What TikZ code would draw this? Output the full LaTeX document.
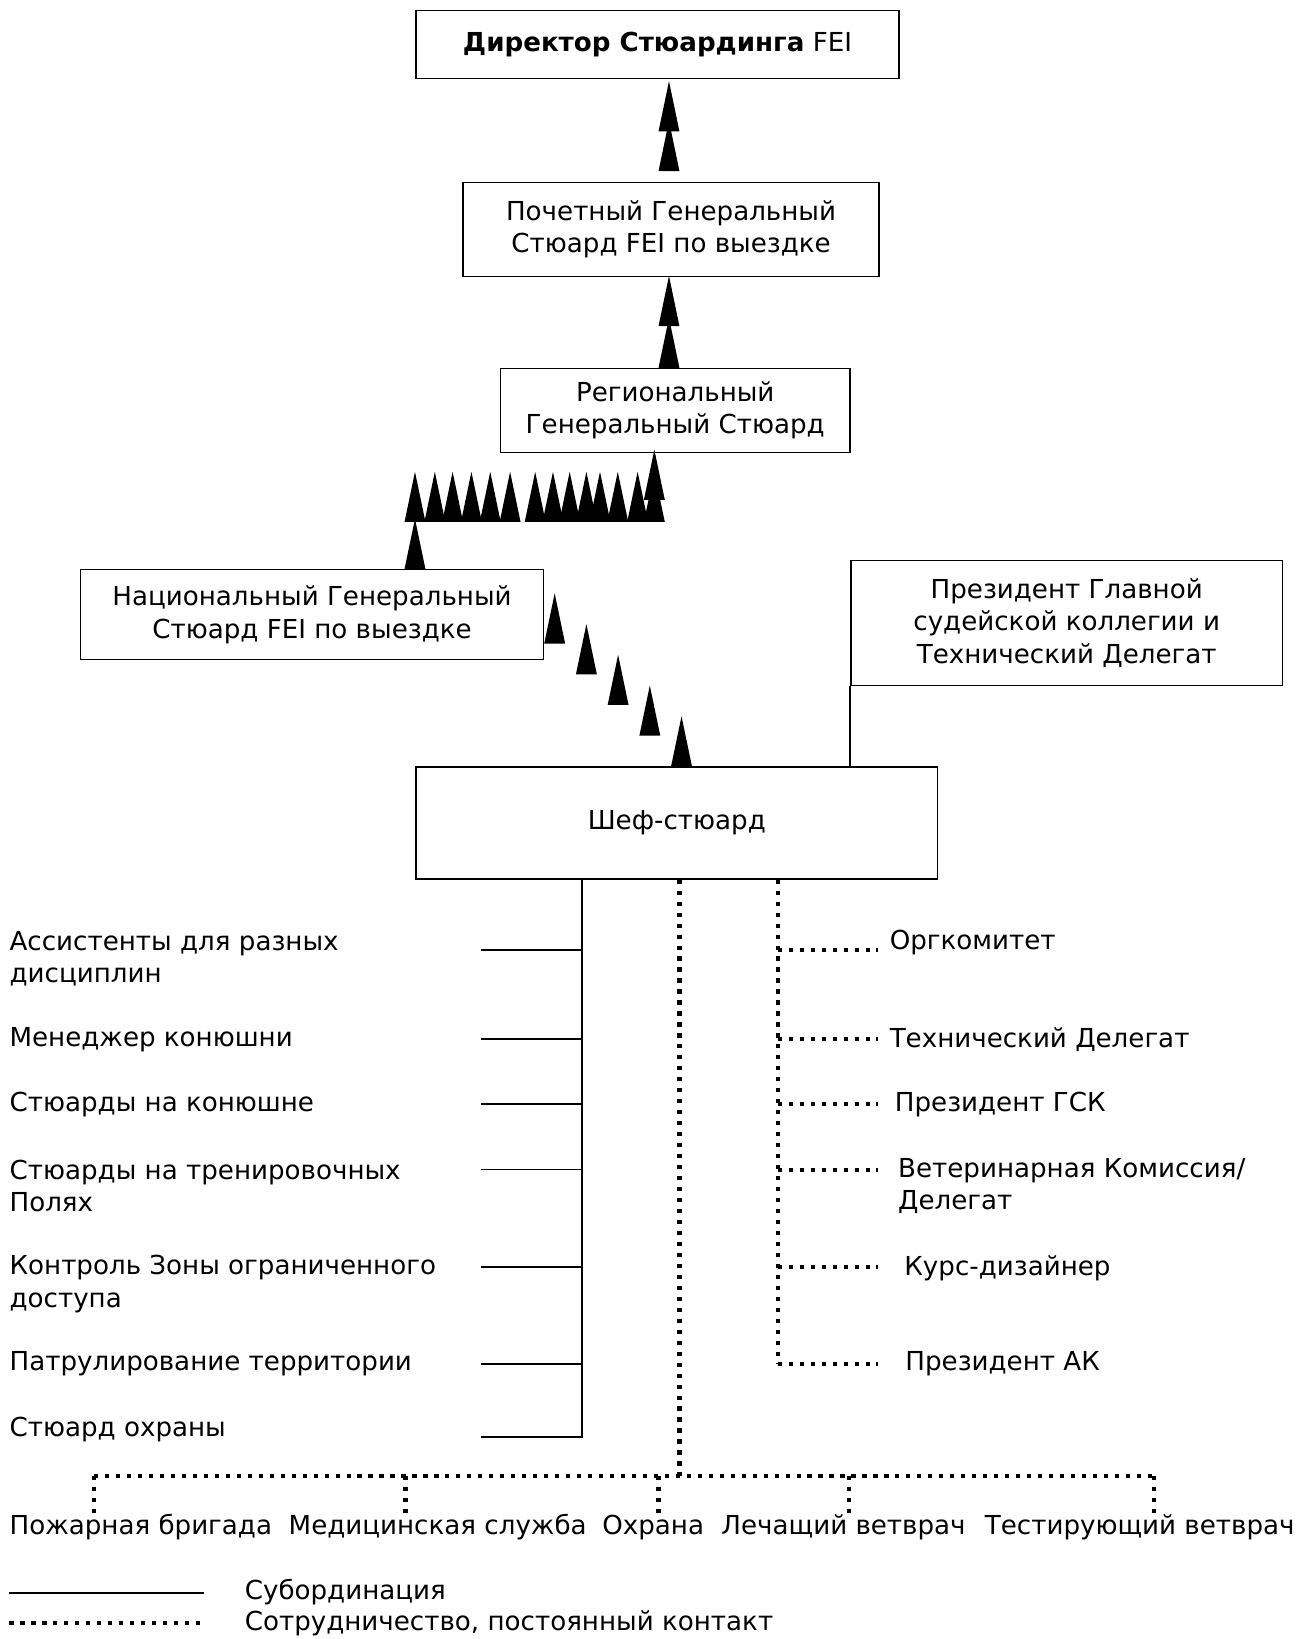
\documentclass[tikz,border=0pt]{standalone}
\usepackage{fontspec}
\setmainfont{DejaVu Sans}
\usetikzlibrary{positioning,calc}
\tikzset{
  box/.style={draw,line width=1.3pt,inner sep=0pt,align=center},
  lbl/.style={anchor=west,inner sep=0pt,align=left},
  sub/.style={line width=1.5pt},
  coop/.style={line width=4pt,dash pattern=on 4pt off 6.5pt},
  tri/.pic={\fill (-10,0) -- (10,0) -- (0,-48) -- cycle;}
}

\begin{document}
\begin{tikzpicture}[x=1pt,y=-1pt,font=\fontsize{25}{31}\selectfont]
                      \useasboundingbox (0,0) rectangle (1251,1568);
                      \node[box,minimum width=462pt,minimum height=65pt] (dir) at (629,42.5) {\textbf{Директор Стюардинга} FEI};
                      \node[box,minimum width=398pt,minimum height=90pt] (poch) [below=98pt of dir,xshift=13pt] {Почетный Генеральный\\Стюард FEI по выездке};
                      \node[box,minimum width=334pt,minimum height=80pt] (reg) [below=87pt of poch,xshift=4pt] {Региональный\\Генеральный Стюард};
                      \node[box,minimum width=443pt,minimum height=86pt] (nat) at (298.5,588) {Национальный Генеральный\\Стюард FEI по выездке};
                      \node[box,minimum width=413pt,minimum height=120pt] (pres) at (1020.5,596) {Президент Главной\\судейской коллегии и\\Технический Делегат};
                      \node[box,minimum width=499pt,minimum height=107pt] (shef) [below=300pt of reg,xshift=1.5pt] {Шеф-стюард};

                      \foreach \d in {10,48}
                        \pic at ($(poch.north)+(-2,-\d)$) {tri};
                      \foreach \d in {0,40}
                        \pic at ($(reg.north)+(-6,-\d)$) {tri};

                      \coordinate (natup) at ($(nat.north)+(98.5,0)$);
                      \coordinate (rowl) at ($(natup)+(0,-45)$);
                      \coordinate (regdn) at ($(reg.south)+(-20,0)$);
                      \pic at (natup) {tri};
                      \foreach \x in {0,19,36,54,72,91,115,132,148,164,177,194,213,229}
                        \pic at ($(rowl)+(\x,0)$) {tri};
                      \pic at ($(regdn)+(0,45)$) {tri};

                      \coordinate (ds) at ($(nat.south east)+(10,-16)$);
                      \coordinate (de) at ($(shef.north)+(4.5,0)$);
                      \foreach \t in {0,0.25,0.5,0.75,1}
                        \pic at ($(ds)!\t!(de)$) {tri};

                      \draw[sub] (pres.south west) -- (pres.south west |- shef.north);

                      \coordinate (strunk) at ($(shef.south)+(-90.5,0)$);
                      \foreach \i/\y in {1/909,2/994,3/1056,4/1119,5/1212,6/1305,7/1375}
                        \coordinate (lt\i) at (460,\y);
                      \draw[sub] (strunk) -- (strunk |- lt7) -- (lt7);
                      \foreach \i in {1,...,6}
                        \draw[sub] (lt\i -| strunk) -- (lt\i);

                      \coordinate (ctrunk) at ($(shef.south)+(96.5,0)$);
                      \foreach \i/\y in {1/909,2/994,3/1056,4/1119,5/1212,6/1305}
                        \coordinate (rt\i) at (840,\y);
                      \draw[coop] (ctrunk) -- (ctrunk |- rt6);
                      \foreach \i in {1,...,6}
                        \draw[coop] (rt\i -| ctrunk) -- (rt\i);

                      \coordinate (btrunk) at ($(shef.south)+(2.5,0)$);
                      \coordinate (bl) at (90,1412);
                      \foreach \i/\x in {1/90,2/388,3/630,4/812,5/1104}
                        \coordinate (d\i) at (\x,1447);
                      \draw[coop] (btrunk) -- (btrunk |- bl);
                      \draw[coop] (bl) -- (bl -| d5);
                      \foreach \i in {1,...,5}
                        \draw[coop] (d\i |- bl) -- (d\i);

                      \node[lbl] (l1) at (9,917.5) {Ассистенты для разных\\дисциплин};
                      \node[lbl] (l2) at (9,995) {Менеджер конюшни};
                      \node[lbl] (l3) at (9,1057) {Стюарды на конюшне};
                      \node[lbl] (l4) at (9,1134.5) {Стюарды на тренировочных\\Полях};
                      \node[lbl] (l5) at (9,1228.5) {Контроль Зоны ограниченного\\доступа};
                      \node[lbl] (l6) at (9,1305) {Патрулирование территории};
                      \node[lbl] (l7) at (9,1368) {Стюард охраны};

                      \node[lbl] (r1) at (851,902) {Оргкомитет};
                      \node[lbl] (r2) at (851,995) {Технический Делегат};
                      \node[lbl] (r3) at (856,1057) {Президент ГСК};
                      \node[lbl] (r4) at (859,1134.5) {Ветеринарная Комиссия/\\Делегат};
                      \node[lbl] (r5) at (865,1213) {Курс-дизайнер};
                      \node[lbl] (r6) at (866,1305) {Президент АК};

                      \node[lbl] (fire) at (9,1461) {Пожарная бригада};
                      \node[lbl] (med) at (276,1461) {Медицинская служба};
                      \node[lbl] (guard) at (576,1461) {Охрана};
                      \node[lbl] (vet) at (690,1461) {Лечащий ветврач};
                      \node[lbl] (test) at (942,1461) {Тестирующий ветврач};

                      \coordinate (k1) at (9,1524);
                      \coordinate (k2) at (9,1553);
                      \draw[sub] (k1) -- ++(186,0);
                      \draw[coop] (k2) -- ++(184,0);
                      \node[lbl] (ksub) at (234,1523) {Субординация};
                      \node[lbl] (kcoop) at (234,1553) {Сотрудничество, постоянный контакт};
                \end{tikzpicture}
\end{document}
